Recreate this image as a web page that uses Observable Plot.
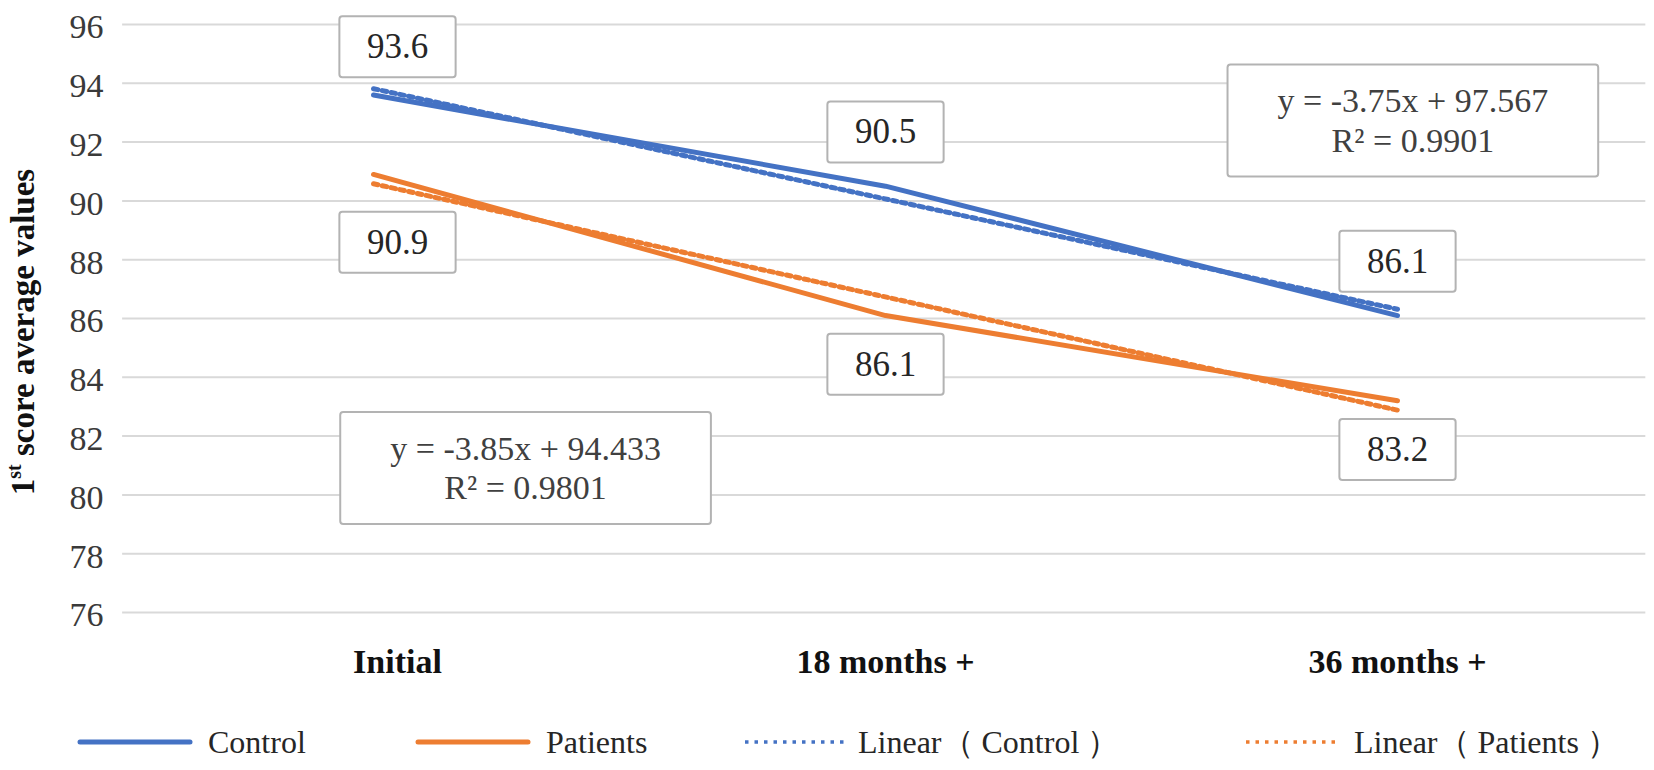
<!DOCTYPE html>
<html><head><meta charset="utf-8">
<script src="https://cdn.jsdelivr.net/npm/d3@7"></script>
<script src="https://cdn.jsdelivr.net/npm/@observablehq/plot@0.6"></script>
<style>
body{margin:0;background:#fff;font-family:"Liberation Serif","Times New Roman",serif;}
#chart svg{display:block;}
</style></head><body>
<div id="chart"></div>
<div id="legend"></div>
<script>
const categories = ["Initial", "18 months +", "36 months +"];
const seriesNames = ["Control", "Patients"];
const controlValues = [93.6, 90.5, 86.1];
const patientValues = [90.9, 86.1, 83.2];
const yTicks = [76, 78, 80, 82, 84, 86, 88, 90, 92, 94, 96];
const legendLabels = ["Control", "Patients", "Linear（ Control ）", "Linear（ Patients ）"];
const colors = ["#4472C4", "#ED7D31"];

const rows = [];
categories.forEach((c, i) => {
  rows.push({x: i + 1, cat: c, value: controlValues[i], series: "Control"});
  rows.push({x: i + 1, cat: c, value: patientValues[i], series: "Patients"});
});

function fit(vals) {
  const xs = vals.map((_, i) => i + 1);
  const mx = d3.mean(xs), my = d3.mean(vals);
  const sxy = d3.sum(xs, (x, i) => (x - mx) * (vals[i] - my));
  const sxx = d3.sum(xs, x => (x - mx) ** 2);
  const b = sxy / sxx, a = my - b * mx;
  const ssr = d3.sum(xs, (x, i) => (vals[i] - (a + b * x)) ** 2);
  const sst = d3.sum(vals, v => (v - my) ** 2);
  const r2 = 1 - ssr / sst;
  return {a, b, label: `y = ${+b.toFixed(2)}x + ${+a.toFixed(3)}\nR² = ${r2.toFixed(4)}`};
}
const controlFit = fit(controlValues);
const patientFit = fit(patientValues);
const trendRows = [];
[[controlFit, "Control"], [patientFit, "Patients"]].forEach(([f, s]) => {
  [1, categories.length].forEach(x => trendRows.push({x, value: f.a + f.b * x, series: s}));
});

const textColor = "#404040";
const font = '"Liberation Serif", "Times New Roman", serif';

const first = d => d.x === 1;
const rest = d => d.x !== 1;

const plot = Plot.plot({
  width: 1654,
  height: 690,
  marginLeft: 117,
  marginRight: 1,
  marginTop: 24,
  marginBottom: 78,
  style: {fontFamily: font, background: "#fff"},
  x: {domain: [0.5, 3.5], axis: null},
  y: {domain: [76, 96], axis: null},
  color: {domain: seriesNames, range: colors},
  marks: [
    Plot.ruleY(yTicks, {x1: 0.51, x2: 3.485, stroke: "#d9d9d9", strokeWidth: 2}),
    Plot.axisY(yTicks, {label: null, tickSize: 0, tickPadding: 14, fontSize: 34, color: "#3a3a3a", dy: 3}),
    Plot.axisX([1], {label: null, tickSize: 0, tickPadding: 36, fontSize: 34, fontWeight: "bold", color: "#111", tickFormat: i => categories[i - 1], dx: 24}),
    Plot.axisX([2, 3], {label: null, tickSize: 0, tickPadding: 36, fontSize: 34, fontWeight: "bold", color: "#111", tickFormat: i => categories[i - 1], dx: 0}),
    Plot.line(rows, {x: "x", y: "value", z: "series", stroke: "series", strokeWidth: 5, curve: "linear", strokeLinejoin: "round", strokeLinecap: "round"}),
    Plot.line(trendRows, {x: "x", y: "value", z: "series", stroke: "series", strokeWidth: 5, strokeDasharray: "4.5,4.5"}),
    Plot.text(rows.filter(d => d.series === "Control" && first(d)), {x: "x", y: "value", text: d => d.value.toFixed(1), dx: 24, dy: -48, fontSize: 35, fill: "#262626"}),
    Plot.text(rows.filter(d => d.series === "Control" && rest(d)), {x: "x", y: "value", text: d => d.value.toFixed(1), dy: -54, fontSize: 35, fill: "#262626"}),
    Plot.text(rows.filter(d => d.series === "Patients" && first(d)), {x: "x", y: "value", text: d => d.value.toFixed(1), dx: 24, dy: 68, fontSize: 35, fill: "#262626"}),
    Plot.text(rows.filter(d => d.series === "Patients" && rest(d)), {x: "x", y: "value", text: d => d.value.toFixed(1), dy: 49, fontSize: 35, fill: "#262626"}),
    Plot.text([controlFit.label], {x: 3.03, y: 92.77, text: d => d, fontSize: 34, lineHeight: 1.15, fill: textColor}),
    Plot.text([patientFit.label], {x: 1.297, y: 80.95, text: d => d, fontSize: 34, lineHeight: 1.15, fill: textColor})
  ]
});
document.getElementById("chart").appendChild(plot);

// boxes behind value labels and equations
const svg = d3.select(plot);
svg.selectAll('g[aria-label="text"] text').each(function() {
  const bb = this.getBBox();
  const multi = this.querySelectorAll("tspan").length > 1;
  const px = multi ? 50 : 27.5, py = multi ? 18 : 11;
  const g = this.parentNode;
  const t = this.getAttribute("transform");
  d3.select(g).insert("rect", () => this)
    .attr("x", bb.x - px).attr("y", bb.y - py)
    .attr("width", bb.width + 2 * px).attr("height", bb.height + 2 * py)
    .attr("rx", 3)
    .attr("transform", t)
    .attr("fill", "#fff").attr("stroke", "#b3b3b3").attr("stroke-width", 2);
});

// y axis title
const title = svg.append("text")
  .attr("transform", "translate(34,332) rotate(-90)")
  .attr("text-anchor", "middle")
  .attr("font-family", font).attr("font-weight", "bold").attr("font-size", 33).attr("fill", "#111");
title.append("tspan").text("1");
title.append("tspan").attr("font-size", 20).attr("dy", -13).text("st");
title.append("tspan").attr("dy", 13).text(" score average values");

// legend
const lg = d3.select("#legend").append("svg").attr("width", 1654).attr("height", 80)
  .style("display", "block");
const items = [
  {x1: 80, x2: 190, tx: 208, c: colors[0], dash: null, w: 5},
  {x1: 418, x2: 528, tx: 546, c: colors[1], dash: null, w: 5},
  {x1: 745, x2: 844, tx: 858, c: colors[0], dash: "3.5,6", w: 3.5},
  {x1: 1246, x2: 1340, tx: 1354, c: colors[1], dash: "3.5,6", w: 3.5}
];
items.forEach((it, i) => {
  lg.append("line").attr("x1", it.x1).attr("x2", it.x2).attr("y1", 52).attr("y2", 52)
    .attr("stroke", it.c).attr("stroke-width", it.w).attr("stroke-dasharray", it.dash)
    .attr("stroke-linecap", it.dash ? "butt" : "round");
  lg.append("text").attr("x", it.tx).attr("y", 63).attr("font-family", font)
    .attr("font-size", 32).attr("fill", "#262626").text(legendLabels[i]);
});
</script>
</body></html>
